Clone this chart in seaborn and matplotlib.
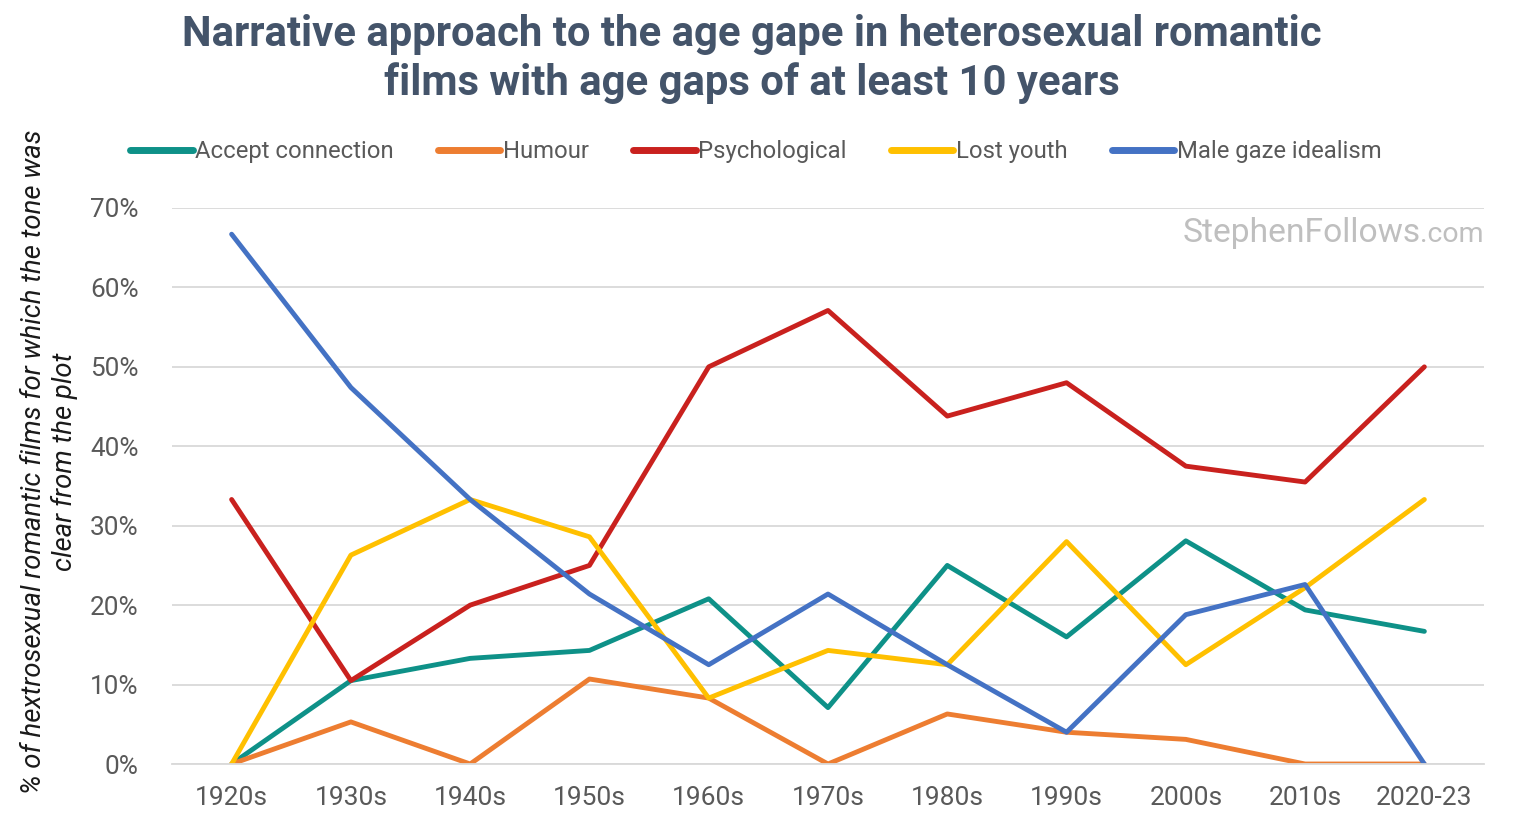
import matplotlib
matplotlib.use("Agg")
import matplotlib.pyplot as plt
import seaborn as sns
import pandas as pd
from matplotlib.lines import Line2D

decades = ["1920s", "1930s", "1940s", "1950s", "1960s", "1970s", "1980s", "1990s", "2000s", "2010s", "2020-23"]
accept_connection = [0.0, 10.5, 13.3, 14.3, 20.8, 7.1, 25.0, 16.0, 28.1, 19.4, 16.7]
humour = [0.0, 5.3, 0.0, 10.7, 8.3, 0.0, 6.3, 4.0, 3.1, 0.0, 0.0]
psychological = [33.3, 10.5, 20.0, 25.0, 50.0, 57.1, 43.8, 48.0, 37.5, 35.5, 50.0]
lost_youth = [0.0, 26.3, 33.3, 28.6, 8.3, 14.3, 12.5, 28.0, 12.5, 22.2, 33.3]
male_gaze = [66.7, 47.4, 33.3, 21.4, 12.5, 21.4, 12.5, 4.0, 18.8, 22.6, 0.0]

series_names = ["Accept connection", "Humour", "Psychological", "Lost youth", "Male gaze idealism"]
series_values = [accept_connection, humour, psychological, lost_youth, male_gaze]
colors = ["#0E9188", "#ED7D31", "#C9211E", "#FFC000", "#4472C4"]

rows = []
for name, vals in zip(series_names, series_values):
    for i, (d, v) in enumerate(zip(decades, vals)):
        rows.append({"pos": i, "decade": d, "series": name, "value": v / 100})
df = pd.DataFrame(rows)

sns.set_theme(style="white")
plt.rcParams["font.family"] = ["Roboto", "DejaVu Sans"]

fig = plt.figure(figsize=(15.18, 8.38), dpi=100)
ax = fig.add_axes([0.1133, 0.0883, 0.8643, 0.6635])

sns.lineplot(data=df, x="pos", y="value", hue="series", hue_order=series_names,
             palette=colors, linewidth=3.5, ax=ax, legend=False, sort=False)

ax.set_xlim(-0.5, len(decades) - 0.5)
ax.set_ylim(0, 0.7)
ax.set_yticks([i / 10 for i in range(8)])
ax.set_yticklabels([f"{i*10}%" for i in range(8)], fontsize=18.8, color="#595959")
ax.set_xticks(range(len(decades)))
ax.set_xticklabels(decades, fontsize=19, color="#595959")
ax.tick_params(axis="y", length=0, pad=24)
ax.tick_params(axis="x", length=0, pad=16)
ax.grid(axis="y", color="#D9D9D9", linewidth=1.3)
ax.set_axisbelow(True)
for s in ["top", "right", "left"]:
    ax.spines[s].set_visible(False)
ax.spines["bottom"].set_color("#D9D9D9")
ax.spines["bottom"].set_linewidth(1.3)
ax.set_xlabel("")
ax.set_ylabel("% of hextrosexual romantic films for which the tone was\nclear from the plot",
              fontsize=19.8, style="italic", color="#1a1a1a", linespacing=1.2)
ax.yaxis.set_label_coords(-0.0715, 0.543)

fig.text(0.4950, 0.983, "Narrative approach to the age gape in heterosexual romantic\nfilms with age gaps of at least 10 years",
         ha="center", va="top", fontsize=30.2, fontweight="bold", color="#44546A", linespacing=1.2)

handles = [Line2D([0], [0], color=c, linewidth=5, solid_capstyle="round") for c in colors]
leg = fig.legend(handles, series_names, loc="center", bbox_to_anchor=(0.498, 0.819), ncol=5,
                 frameon=False, fontsize=17.2, handlelength=2.6, handletextpad=0.12,
                 columnspacing=1.85)
for t in leg.get_texts():
    t.set_color("#595959")

fig.canvas.draw()
r = fig.canvas.get_renderer()
com = ax.text(1.0, 0.939, ".com", transform=ax.transAxes, ha="right", va="baseline",
              fontsize=20.5, color="#BFBFBF")
bb = com.get_window_extent(renderer=r)
inv = ax.transAxes.inverted()
x0 = inv.transform((bb.x0, bb.y0))[0]
ax.text(x0, 0.939, "StephenFollows", transform=ax.transAxes, ha="right", va="baseline",
        fontsize=24.2, color="#BFBFBF")

fig.savefig("out.png", dpi=100)
